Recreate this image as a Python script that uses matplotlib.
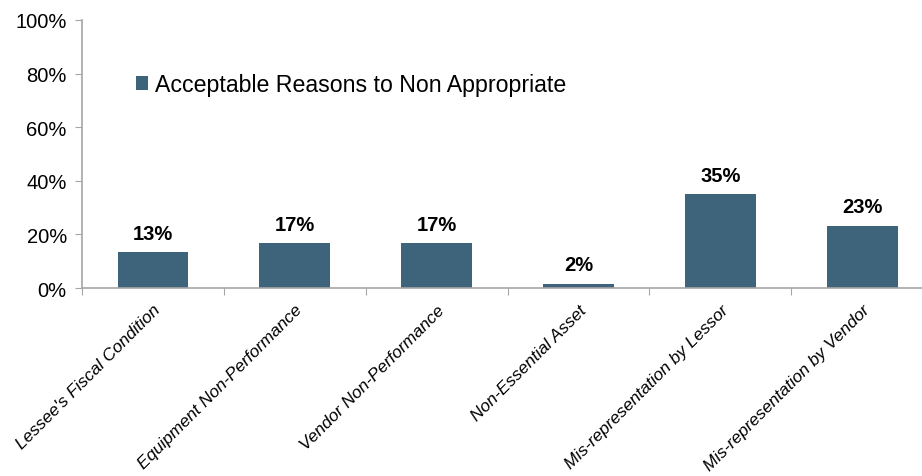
import matplotlib
matplotlib.use("Agg")
import matplotlib.pyplot as plt
from matplotlib.ticker import FuncFormatter, MultipleLocator

plt.rcParams['font.family'] = ['Liberation Sans', 'DejaVu Sans']

categories = [
    "Lessee's Fiscal Condition",
    "Equipment Non-Performance",
    "Vendor Non-Performance",
    "Non-Essential Asset",
    "Mis-representation by Lessor",
    "Mis-representation by Vendor",
]
shares = [0.133, 0.167, 0.167, 0.017, 0.350, 0.233]
series_name = "Acceptable Reasons to Non Appropriate"

bar_color = "#3d647b"
axis_color = "#a6a6a6"

fig = plt.figure(figsize=(9.22, 4.77), dpi=100)
ax = fig.add_axes([0.089, 0.394, 0.923, 0.562])

x = list(range(len(categories)))
bars = ax.bar(x, shares, width=0.5, color=bar_color, label=series_name, zorder=2)

for xi, v in zip(x, shares):
    ax.annotate(f"{v:.0%}", (xi, v), xytext=(0, 7), textcoords="offset points",
                ha="center", va="bottom", fontsize=14.5, fontweight="bold", color="black")

ax.set_xlim(-0.5, len(categories) - 0.5)
ax.set_ylim(0, 1.0)
ax.yaxis.set_major_locator(MultipleLocator(0.2))
ax.yaxis.set_major_formatter(FuncFormatter(lambda v, _: f"{v:.0%}"))

# category boundaries carry the tick marks, labels sit under each bar
ax.set_xticks([i - 0.5 for i in range(len(categories) + 1)])
ax.set_xticklabels([])
ax.set_xticks(x, minor=True)
ax.set_xticklabels(categories, minor=True, rotation=45, ha="right",
                   rotation_mode="anchor", fontsize=12.5, style="italic")
ax.tick_params(axis="x", which="minor", length=0, pad=10)
ax.tick_params(axis="x", which="major", length=5, color=axis_color, direction="out")
ax.tick_params(axis="y", length=5, color=axis_color, labelsize=14.5, pad=6)

for side in ("top", "right"):
    ax.spines[side].set_visible(False)
for side in ("left", "bottom"):
    ax.spines[side].set_color(axis_color)
    ax.spines[side].set_linewidth(1.2)

leg = ax.legend(loc="upper left", bbox_to_anchor=(0.052, 0.835), frameon=False,
                fontsize=16.7, handlelength=0.55, handleheight=0.55, handletextpad=0.3,
                borderaxespad=0)

fig.savefig("out.png", dpi=100)
